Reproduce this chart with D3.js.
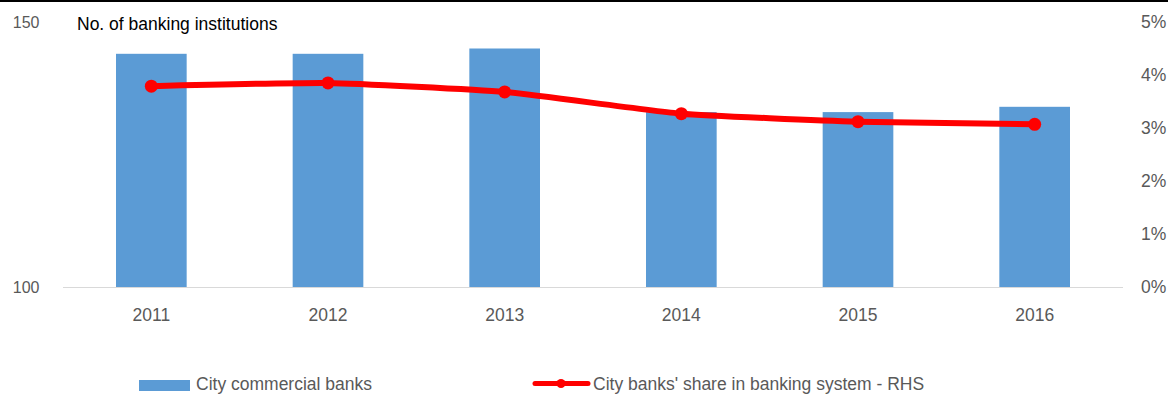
<!DOCTYPE html>
<html>
<head>
<meta charset="utf-8">
<script src="https://cdn.jsdelivr.net/npm/d3@7"></script>
<style>
  html, body { margin: 0; padding: 0; background: #fff; }
  svg { display: block; font-family: "Liberation Sans", Arial, sans-serif; }
</style>
</head>
<body>
<svg id="chart" width="1168" height="394"></svg>
<script>
// Number of city commercial banks and their share of total banking assets
const years = ["2011", "2012", "2013", "2014", "2015", "2016"];
const bankCounts = [144, 144, 145, 133, 133, 134];
const assetShare = [3.79, 3.85, 3.68, 3.27, 3.12, 3.07]; // percent, right-hand scale
const leftTicks = [100, 150];
const rightTicks = [0, 1, 2, 3, 4, 5];
const barLabel = "City commercial banks";
const lineLabel = "City banks' share in banking system - RHS";
const axisTitle = "No. of  banking institutions";

const svg = d3.select("#chart");
const plot = { left: 63, right: 1123, top: 22, bottom: 287 };

const x = d3.scaleBand().domain(years).range([plot.left, plot.right]).paddingInner(0.6).paddingOuter(0.3);
const yL = d3.scaleLinear().domain([100, 150]).range([plot.bottom, plot.top]);
const yR = d3.scaleLinear().domain([0, 5]).range([plot.bottom, plot.top]);

const blue = "#5B9BD5", red = "#FF0000", grey = "#595959";

// frame line across the top
svg.append("line").attr("x1", 0).attr("x2", 1168).attr("y1", 1).attr("y2", 1)
  .attr("stroke", "#000").attr("stroke-width", 2);

// bars
svg.append("g").selectAll("rect").data(years).join("rect")
  .attr("x", d => x(d))
  .attr("width", x.bandwidth())
  .attr("y", (d, i) => yL(bankCounts[i]))
  .attr("height", (d, i) => yL(100) - yL(bankCounts[i]))
  .attr("fill", blue);

// category axis line
svg.append("line").attr("x1", plot.left).attr("x2", plot.right)
  .attr("y1", yL(100) + 0.5).attr("y2", yL(100) + 0.5)
  .attr("stroke", "#D9D9D9").attr("stroke-width", 1);

// left axis labels
svg.append("g").selectAll("text").data(leftTicks).join("text")
  .attr("x", 39.5).attr("y", d => yL(d)).attr("dy", "0.35em")
  .attr("text-anchor", "end").attr("font-size", 16).attr("fill", grey)
  .text(d => d);

// right axis labels
svg.append("g").selectAll("text").data(rightTicks).join("text")
  .attr("x", 1141).attr("y", d => yR(d)).attr("dy", "0.35em")
  .attr("text-anchor", "start").attr("font-size", 17.5).attr("fill", grey)
  .text(d => d + "%");

// category labels
svg.append("g").selectAll("text").data(years).join("text")
  .attr("x", d => x(d) + x.bandwidth() / 2).attr("y", 321)
  .attr("text-anchor", "middle").attr("font-size", 17.5).attr("fill", grey)
  .text(d => d);

// axis title
svg.append("text").attr("x", 77).attr("y", 30).attr("font-size", 17.5).attr("fill", "#000")
  .text(axisTitle);

// share line with markers
const pts = years.map((d, i) => [x(d) + x.bandwidth() / 2, yR(assetShare[i])]);
svg.append("path").datum(pts)
  .attr("d", d3.line().curve(d3.curveCardinal.tension(0.55)))
  .attr("fill", "none").attr("stroke", red).attr("stroke-width", 6)
  .attr("stroke-linejoin", "round").attr("stroke-linecap", "round");
svg.append("g").selectAll("circle").data(pts).join("circle")
  .attr("cx", d => d[0]).attr("cy", d => d[1]).attr("r", 6.5).attr("fill", red);

// legend
const lg = svg.append("g");
lg.append("rect").attr("x", 139).attr("y", 380).attr("width", 51).attr("height", 11).attr("fill", blue);
lg.append("text").attr("x", 196).attr("y", 390).attr("font-size", 17.5).attr("fill", grey).text(barLabel);
lg.append("line").attr("x1", 535).attr("x2", 588).attr("y1", 383.5).attr("y2", 383.5)
  .attr("stroke", red).attr("stroke-width", 5).attr("stroke-linecap", "round");
lg.append("circle").attr("cx", 561).attr("cy", 383.5).attr("r", 4.5).attr("fill", red);
lg.append("text").attr("x", 593).attr("y", 390).attr("font-size", 17.5).attr("fill", grey).text(lineLabel);
</script>
</body>
</html>
